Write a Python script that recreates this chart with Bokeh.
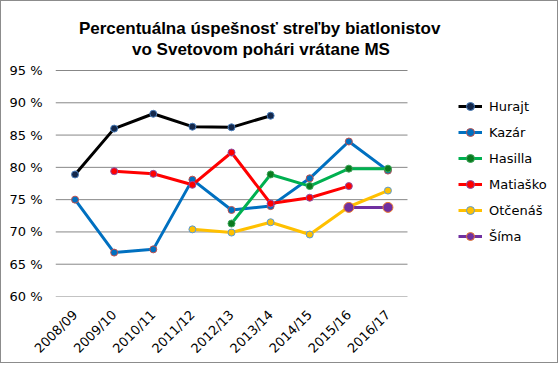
import numpy as np
from bokeh.plotting import figure
from bokeh.models import Legend, LegendItem, FixedTicker, Range1d, Label
from bokeh.embed import file_html
from bokeh.resources import INLINE

seasons = ["2008/09", "2009/10", "2010/11", "2011/12", "2012/13",
           "2013/14", "2014/15", "2015/16", "2016/17"]
hurajt = [78.9, 86.0, 88.3, 86.3, 86.2, 88.0, None, None, None]
kazar = [75.0, 66.8, 67.3, 78.1, 73.4, 74.0, 78.3, 84.0, 79.5]
hasilla = [None, None, None, None, 71.3, 78.9, 77.1, 79.8, 79.8]
matiasko = [None, 79.4, 79.0, 77.3, 82.3, 74.4, 75.3, 77.1, None]
otcenas = [None, None, None, 70.4, 69.9, 71.5, 69.6, 73.9, 76.4]
sima = [None, None, None, None, None, None, None, 73.8, 73.8]

names = ["Hurajt", "Kazár", "Hasilla", "Matiaško", "Otčenáš", "Šíma"]
y_ticks = [60, 65, 70, 75, 80, 85, 90, 95]
y_tick_labels = ["60 %", "65 %", "70 %", "75 %", "80 %", "85 %", "90 %", "95 %"]
title_lines = ["Percentuálna  úspešnosť streľby biatlonistov",
               "vo Svetovom pohári vrátane MS"]

series = [hurajt, kazar, hasilla, matiasko, otcenas, sima]
line_colors = ["#000000", "#0070C0", "#00B050", "#FF0000", "#FFC000", "#7030A0"]
fill_colors = ["#14284B", "#0070C0", "#0A7A1E", "#FF0000", "#FFC000", "#7030A0"]
edge_colors = ["#4A7EBB", "#C0504D", "#3CA55A", "#8A4FA8", "#5B9BD5", "#ED7D31"]
marker_sizes = [7, 7, 7, 7, 7, 10]

FONT = "DejaVu Sans"

# plot frame covers the legend and title area as well; the category area
# spans x in [-0.5, n-0.5] and y in [60, 95]
n = len(seasons)
xs_all = np.arange(n)
p = figure(width=558, height=363,
           x_range=Range1d(-0.5, 12.335), y_range=Range1d(60, 105.686),
           output_backend="svg", toolbar_location=None,
           min_border_left=54, min_border_right=2,
           min_border_top=0, min_border_bottom=68)
p.styles = {"border": "1px solid #8c8c8c"}
p.outline_line_color = None
p.background_fill_color = "white"
p.border_fill_color = "white"
p.xgrid.grid_line_color = None
p.ygrid.grid_line_color = None

# horizontal gridlines over the category area only
p.segment(x0=[-0.5] * len(y_ticks), x1=[n - 0.5] * len(y_ticks),
          y0=y_ticks, y1=y_ticks, line_color="#878787", line_width=1)

p.yaxis.ticker = FixedTicker(ticks=y_ticks)
p.yaxis.major_label_overrides = {t: s for t, s in zip(y_ticks, y_tick_labels)}
p.yaxis.axis_line_color = None
p.yaxis.major_tick_line_color = None
p.yaxis.minor_tick_line_color = None
p.yaxis.major_tick_out = 0
p.yaxis.major_tick_in = 0
p.yaxis.major_label_standoff = 13
p.yaxis.major_label_text_font = FONT
p.yaxis.major_label_text_font_size = "13px"
p.yaxis.major_label_text_color = "#000000"

p.xaxis.ticker = FixedTicker(ticks=list(range(n)))
p.xaxis.major_label_overrides = {i: s for i, s in enumerate(seasons)}
p.xaxis.axis_line_color = None
p.xaxis.major_tick_line_color = None
p.xaxis.minor_tick_line_color = None
p.xaxis.major_tick_out = 0
p.xaxis.major_tick_in = 0
p.xaxis.major_label_orientation = np.pi / 4
p.xaxis.major_label_standoff = 16
p.xaxis.major_label_text_font = FONT
p.xaxis.major_label_text_font_size = "13px"
p.xaxis.major_label_text_color = "#000000"

items = []
for name, vals, lc, fc, ec, ms in zip(names, series, line_colors, fill_colors,
                                      edge_colors, marker_sizes):
    y = np.array([np.nan if v is None else v for v in vals], dtype=float)
    r1 = p.line(xs_all, y, line_color=lc, line_width=3)
    mask = ~np.isnan(y)
    r2 = p.scatter(xs_all[mask], y[mask], marker="circle", size=ms,
                   fill_color=fc, line_color=ec, line_width=1)
    items.append(LegendItem(label=name, renderers=[r1, r2]))

legend = Legend(items=items, location=(403, 50), padding=0, spacing=6,
                label_height=20, glyph_height=20, glyph_width=24,
                label_standoff=7, border_line_color=None,
                background_fill_alpha=0, margin=0,
                label_text_font=FONT, label_text_font_size="13px",
                label_text_color="#000000")
p.add_layout(legend, "center")

for txt, xx, yy in [(title_lines[0], 206.5, 268), (title_lines[1], 205.5, 247)]:
    p.add_layout(Label(x=xx, y=yy, x_units="screen", y_units="screen",
                       text=txt, text_align="center", text_baseline="alphabetic",
                       text_font="Liberation Sans", text_font_style="bold",
                       text_font_size="17px", text_color="#000000"))

open("out.html", "w").write(file_html(p, INLINE))
